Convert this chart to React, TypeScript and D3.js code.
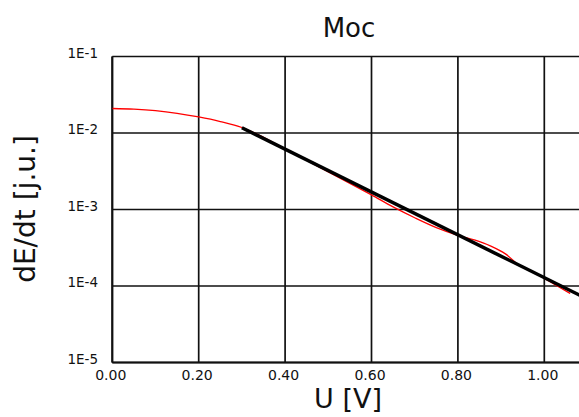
import React from "react";
import * as d3 from "d3";

const title = "Moc";
const xLabel = "U [V]";
const yLabel = "dE/dt [j.u.]";
const xTicks = [0, 0.2, 0.4, 0.6, 0.8, 1.0];
const yTicks = [1e-1, 1e-2, 1e-3, 1e-4, 1e-5];
const yTickLabels = ["1E-1", "1E-2", "1E-3", "1E-4", "1E-5"];

const redU = [0, 0.05, 0.1, 0.15, 0.2, 0.25, 0.3, 0.35, 0.4, 0.45, 0.5, 0.55, 0.6, 0.65, 0.7, 0.75, 0.8, 0.84, 0.875, 0.91, 0.94, 0.97, 1.0, 1.03, 1.06];
const redE = [0.0209, 0.0205, 0.0196, 0.0181, 0.0162, 0.0141, 0.0118, 0.0088, 0.0062, 0.0044, 0.0031, 0.0022, 0.00155, 0.00108, 0.00078, 0.00058, 0.00046, 0.000398, 0.000335, 0.000263, 0.00019, 0.000155, 0.000126, 0.0001, 0.00008];

const fitU = [0.3, 1.1];
const fitE = [0.0117, 0.0000675];

export default function App() {
  const W = 579, H = 417;
  const x = d3.scaleLinear().domain([0, 1.1]).range([112.3, 587.5]);
  const y = d3.scaleLog().domain([1e-5, 1e-1]).range([362.5, 56.5]);
  const redLine = d3.line<number>().x((_, i) => x(redU[i])).y((d) => y(d)).curve(d3.curveMonotoneX);
  const fitLine = d3.line<number>().x((_, i) => x(fitU[i])).y((d) => y(d));
  const font = "DejaVu Sans, Verdana, sans-serif";
  const x0 = x.range()[0], x1 = x.range()[1];
  const yb = y.range()[0], yt = y.range()[1];
  return (
    <svg width={W} height={H} style={{ position: "absolute", left: 0, top: 0, background: "#fff" }}>
      <rect x={0} y={0} width={W} height={H} fill="#fff" />
      <defs>
        <clipPath id="plot">
          <rect x={x0} y={yt} width={x1 - x0} height={yb - yt} />
        </clipPath>
      </defs>
      {xTicks.map((t) => (
        <line key={"gx" + t} x1={x(t)} x2={x(t)} y1={yt} y2={yb} stroke="#111" strokeWidth={1.7} />
      ))}
      {yTicks.map((t) => (
        <line key={"gy" + t} x1={x0} x2={x1} y1={y(t)} y2={y(t)} stroke="#111" strokeWidth={1.7} />
      ))}
      <line x1={x0} x2={x0} y1={yt} y2={yb} stroke="#111" strokeWidth={2} />
      <line x1={x0} x2={x1} y1={yb} y2={yb} stroke="#111" strokeWidth={2} />
      <g clipPath="url(#plot)">
        <path d={redLine(redE) || ""} fill="none" stroke="#ff0000" strokeWidth={1.3} />
        <path d={fitLine(fitE) || ""} fill="none" stroke="#000" strokeWidth={3.5} />
      </g>
      {yTicks.map((t, i) => (
        <text key={"ty" + t} x={98} y={y(t) + 1} textAnchor="end" fontFamily={font} fontSize={13.5} fill="#111">
          {yTickLabels[i]}
        </text>
      ))}
      {xTicks.map((t) => (
        <text key={"tx" + t} x={x(t) - 1.5} y={380} textAnchor="middle" fontFamily={font} fontSize={14} fill="#111">
          {t.toFixed(2)}
        </text>
      ))}
      <text x={349} y={37} textAnchor="middle" fontFamily={font} fontSize={26} fill="#111">{title}</text>
      <text x={348} y={408} textAnchor="middle" fontFamily={font} fontSize={27} fill="#111">{xLabel}</text>
      <text transform="translate(35,209) rotate(-90)" textAnchor="middle" fontFamily={font} fontSize={28} fill="#111">{yLabel}</text>
    </svg>
  );
}
